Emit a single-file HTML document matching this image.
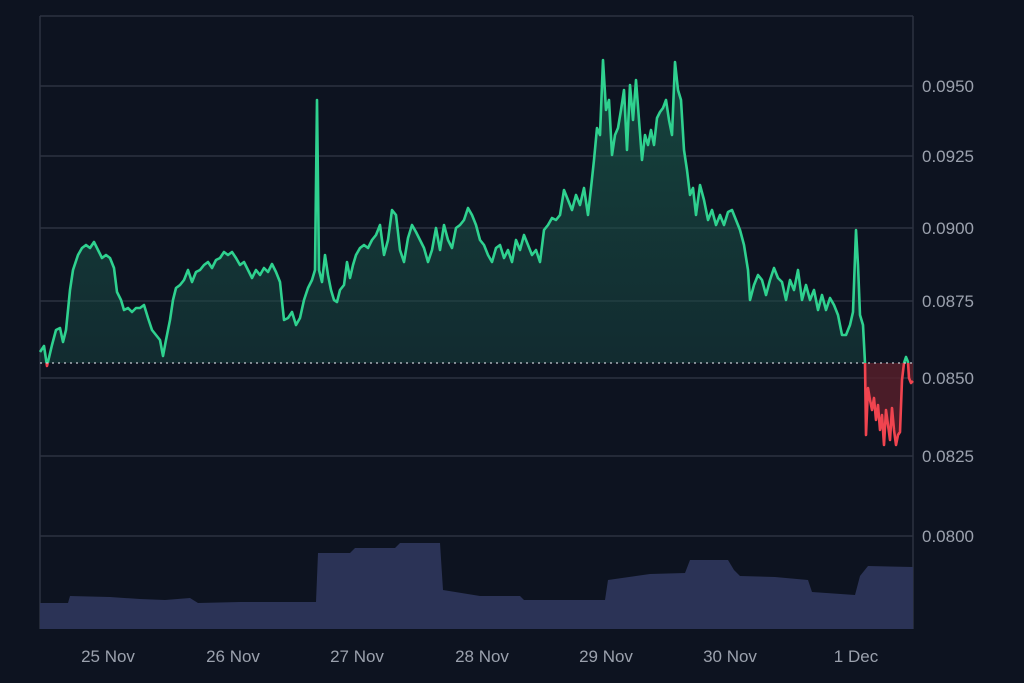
<!DOCTYPE html>
<html><head><meta charset="utf-8"><style>
html,body{margin:0;padding:0;background:#0d1320;}
svg{display:block;}
text{font-family:"Liberation Sans",sans-serif;fill:#9ba1ad;font-size:17px;}
</style></head><body>
<svg width="1024" height="683" viewBox="0 0 1024 683">
<rect width="1024" height="683" fill="#0d1320"/>
<defs>
<clipPath id="above"><rect x="0" y="0" width="1024" height="363"/></clipPath>
<clipPath id="below"><rect x="0" y="363" width="1024" height="320"/></clipPath>
<linearGradient id="gg" x1="0" y1="0" x2="0" y2="1"><stop offset="0" stop-color="#1d6b55" stop-opacity="0.55"/><stop offset="1" stop-color="#15383a" stop-opacity="0.5"/></linearGradient>
</defs>
<g stroke="#2c3240" stroke-width="1.5">
<line x1="40" y1="16" x2="913" y2="16"/>
<line x1="40" y1="86" x2="913" y2="86"/>
<line x1="40" y1="156" x2="913" y2="156"/>
<line x1="40" y1="228" x2="913" y2="228"/>
<line x1="40" y1="301" x2="913" y2="301"/>
<line x1="40" y1="378" x2="913" y2="378"/>
<line x1="40" y1="456" x2="913" y2="456"/>
<line x1="40" y1="536" x2="913" y2="536"/>
<line x1="40" y1="16" x2="40" y2="629"/>
<line x1="913" y1="16" x2="913" y2="629"/>
</g>
<polygon fill="#2b3356" points="40,629 40,603 68,603 70,596 110,597 140,599 165,600 190,598 198,603 240,602 285,602 316,602 318,553 350,553 355,548 395,548 400,543 440,543 443,590 480,596 520,596 524,600 605,600 608,580 650,574 685,573 690,560 728,560 734,570 740,576 775,577 808,580 812,592 855,595 860,576 868,566 913,567 913,629"/>
<g id="price"></g>
<line x1="40" y1="363" x2="913" y2="363" stroke="#c9ccd3" stroke-width="1.3" stroke-dasharray="2,4"/>
<g>
<text x="922" y="92">0.0950</text>
<text x="922" y="162">0.0925</text>
<text x="922" y="234">0.0900</text>
<text x="922" y="307">0.0875</text>
<text x="922" y="384">0.0850</text>
<text x="922" y="462">0.0825</text>
<text x="922" y="542">0.0800</text>
<text x="108" y="662" text-anchor="middle">25 Nov</text>
<text x="233" y="662" text-anchor="middle">26 Nov</text>
<text x="357" y="662" text-anchor="middle">27 Nov</text>
<text x="482" y="662" text-anchor="middle">28 Nov</text>
<text x="606" y="662" text-anchor="middle">29 Nov</text>
<text x="730" y="662" text-anchor="middle">30 Nov</text>
<text x="856" y="662" text-anchor="middle">1 Dec</text>
</g>
</svg>
<script>
var pts="40,352 44,346 47,366 52,345 56,330 60,328 63,342 66,330 70,290 73,270 78,255 82,248 86,245 90,248 94,242 98,250 102,258 106,255 110,258 114,268 117,292 121,300 124,310 128,308 132,312 136,308 140,308 144,305 148,318 152,330 156,335 160,340 163,356 166,340 170,320 173,300 176,288 180,285 184,280 188,270 192,282 196,272 200,270 204,265 208,262 212,268 216,260 220,258 224,252 228,255 232,252 236,258 240,265 244,262 248,270 252,278 256,270 260,275 264,268 268,272 272,264 276,272 280,282 284,320 288,318 292,312 296,325 300,318 304,300 308,288 312,280 315,270 317,100 319,270 322,282 325,255 328,275 331,290 334,300 337,302 340,290 344,285 347,262 350,278 353,265 356,255 360,248 364,245 368,248 372,240 376,235 380,225 384,255 388,240 392,210 396,215 400,250 404,262 408,238 412,225 416,232 420,240 424,248 428,262 432,250 436,228 440,250 444,225 448,240 452,248 456,228 460,225 464,220 468,208 472,215 476,225 480,240 484,245 488,255 492,262 496,248 500,245 504,258 508,250 512,262 516,240 520,250 524,235 528,245 532,255 536,250 540,262 544,230 548,225 552,218 556,220 560,215 564,190 568,200 572,210 576,195 580,205 584,188 588,215 591,188 594,160 597,128 600,135 603,60 606,110 609,100 612,155 615,135 618,128 621,110 624,90 627,150 630,85 633,120 636,80 639,120 642,160 645,135 648,145 651,130 654,145 657,118 660,112 663,108 666,100 669,120 672,135 675,62 678,90 681,100 684,150 687,170 690,195 693,188 696,215 700,185 704,200 708,220 712,210 716,225 720,215 724,225 728,212 732,210 736,220 740,230 744,245 748,270 750,300 754,285 758,275 762,280 766,295 770,280 774,268 778,278 782,282 786,300 790,280 794,290 798,270 802,300 806,285 810,300 814,290 818,310 822,295 826,310 830,298 834,305 838,315 842,335 846,335 850,325 853,312 856,230 858,265 860,315 863,325 865,363 866,435 868,388 870,400 872,410 874,398 876,420 878,405 880,430 882,415 884,445 886,410 888,425 890,440 892,408 894,430 896,445 898,435 900,432 902,380 904,363 906,357 908,362 909,378 911,383 913,381";
var NS="http://www.w3.org/2000/svg",g=document.getElementById("price");
function mk(tag,attrs){var e=document.createElementNS(NS,tag);for(var k in attrs)e.setAttribute(k,attrs[k]);g.appendChild(e);}
var fp="40,363 "+pts+" 913,363";
mk("polygon",{points:fp,fill:"url(#gg)","clip-path":"url(#above)"});
mk("polygon",{points:fp,fill:"#5a1f2a","fill-opacity":"0.8","clip-path":"url(#below)"});
mk("polyline",{points:pts,fill:"none",stroke:"#2fd18f","stroke-width":"2.6","stroke-linejoin":"round","clip-path":"url(#above)"});
mk("polyline",{points:pts,fill:"none",stroke:"#f0444f","stroke-width":"2.6","stroke-linejoin":"round","clip-path":"url(#below)"});
</script>
</body></html>
